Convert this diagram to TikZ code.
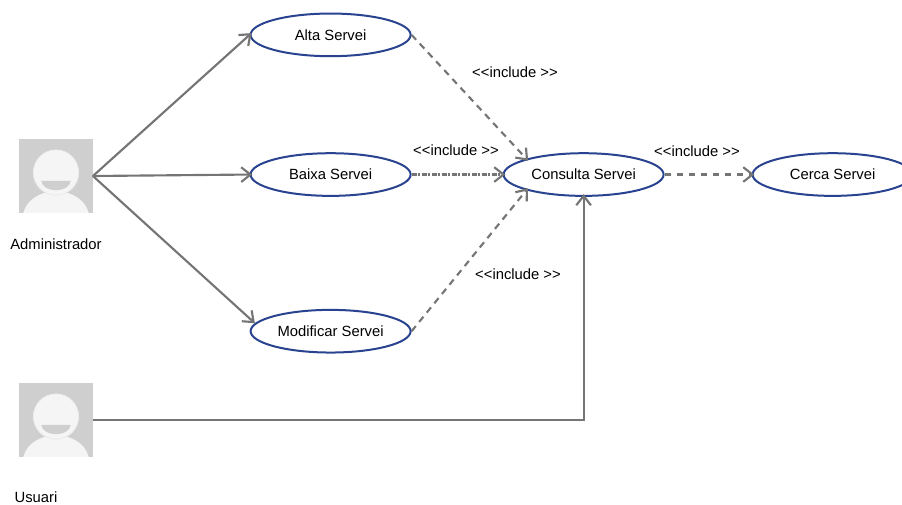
\documentclass[tikz,border=0pt]{standalone}
\usepackage{xcolor}
\usepackage{fontspec}
\setmainfont{Liberation Sans}
\usetikzlibrary{arrows.meta, positioning, shapes.geometric}
\definecolor{usecaseblue}{HTML}{2A4390}
\definecolor{linegray}{HTML}{757575}
\definecolor{iconback}{HTML}{CFCFCF}
\definecolor{iconfront}{HTML}{F5F5F5}

\begin{document}
\begin{tikzpicture}[
    x=0.75pt, y=-0.75pt,
    font=\fontsize{11.1}{13}\selectfont,
    usecase/.style={draw=usecaseblue, line width=1.5pt, ellipse, fill=white, inner sep=0pt, minimum width=120pt, minimum height=32pt},
    actor/.style={rectangle, fill=iconback, inner sep=0pt, minimum size=55pt, path picture={
        \fill[iconfront] ([yshift=-59pt]path picture bounding box.north) ellipse [x radius=25pt, y radius=20pt];
        \fill[iconfront, draw=iconback!25!iconfront, line width=0.6pt] ([yshift=2.6pt]path picture bounding box.center) circle [radius=17pt];
        \fill[iconback] ([xshift=-11pt, yshift=-3.6pt]path picture bounding box.center) arc [start angle=180, end angle=360, x radius=11pt, y radius=7pt] -- cycle;
    }},
    assoc/.style={-{Straight Barb[length=7pt, width=11pt]}, line width=1.6pt, draw=linegray, shorten >=-2pt},
    incl/.style={assoc, dash pattern=on 5pt off 4pt},
    incldot/.style={assoc, dash pattern=on 4pt off 1pt on 1.5pt off 1pt}
]
\useasboundingbox (0,0) rectangle (902,504);

% --- Actors ---
\node[actor] (admin) at (56,176) {};
\node[actor] (usuari) at (56,420) {};
\node[below=15.5pt of admin] (adminlbl) {Administrador};
\node[below=22.5pt of usuari, xshift=-15pt] (usuarilbl) {Usuari};

% --- Use cases ---
\node[usecase, right=117.5pt of admin, yshift=1.1pt] (baixa) {Baixa Servei};
\node[usecase, above=71.25pt of baixa] (alta) {Alta Servei};
\node[usecase, below=84pt of baixa] (modif) {Modificar Servei};
\node[usecase, right=68.25pt of baixa] (consulta) {Consulta Servei};
\node[usecase, right=65.25pt of consulta] (cerca) {Cerca Servei};

% --- Labels ---
\node (inclalta) at (515,72) {<{}<include >{}>};
\node (inclbaixa) at (456,150) {<{}<include >{}>};
\node (inclmodif) at (518,274) {<{}<include >{}>};
\node (inclcerca) at (697,151) {<{}<include >{}>};

% --- Arrows ---
\draw[assoc] (admin.east) -- (alta.west);
\draw[assoc] (admin.east) -- (baixa.west);
\draw[assoc, shorten >=0pt] (admin.east) -- (modif.174);
\draw[assoc] (usuari.east) -| (consulta.south);
\draw[incl] (alta.east) -- (consulta.north west);
\draw[incldot] (baixa.east) -- (consulta.west);
\draw[incl] (modif.east) -- (consulta.south west);
\draw[incl] (consulta.east) -- (cerca.west);

\end{tikzpicture}
\end{document}
